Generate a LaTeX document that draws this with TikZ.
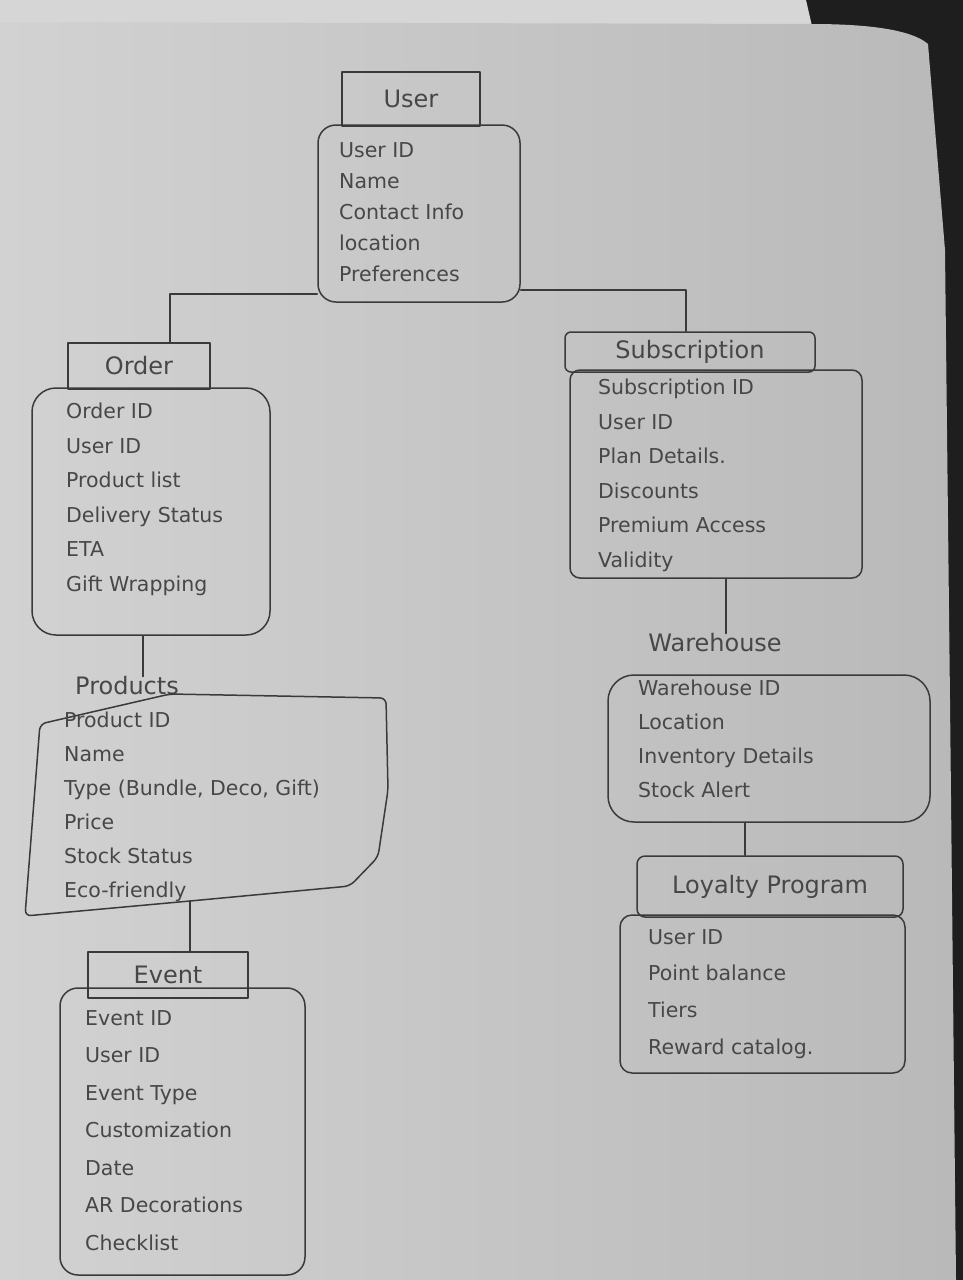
\documentclass[tikz,border=0pt]{standalone}
\usepackage{fontspec}
\setmainfont{DejaVu Sans}
\definecolor{ink}{HTML}{3A3A3A}
\definecolor{inktext}{HTML}{474747}
\definecolor{paperlight}{HTML}{D2D2D2}
\definecolor{paperdark}{HTML}{B9B9B9}
\definecolor{sheettop}{HTML}{D6D6D6}
\definecolor{backdrop}{HTML}{1E1E1E}
\begin{document}
\begin{tikzpicture}[x=1pt,y=-1pt,
  pencil/.style={draw=ink, line width=1.5pt, line cap=round, line join=round},
  tabbox/.style={pencil, rectangle, inner sep=0pt, text=inktext,
    font=\fontsize{24}{28}\selectfont},
  bodybox/.style={pencil, rectangle, rounded corners=#1, inner sep=0pt},
  bodybox/.default=14pt,
  heading/.style={text=inktext, inner sep=0pt, font=\fontsize{24}{28}\selectfont},
  attrlist/.style={text=inktext, inner sep=0pt, anchor=north west, align=left,
    font=\fontsize{20.5}{#1}\selectfont},
  attrlist/.default=34pt,
]
% desk and paper sheets
\useasboundingbox (0,0) rectangle (963,1280);
\fill[backdrop] (0,0) rectangle (963,1280);
\fill[sheettop] (0,0) -- (806,0) -- (812,26) -- (0,26) -- cycle;
\shade[left color=paperlight, right color=paperdark]
  (0,22) -- (812,24) .. controls (870,24) and (912,30) .. (928,44)
  -- (945,250) -- (950,700) -- (956,1280) -- (0,1280) -- cycle;

% User
\node[tabbox, minimum width=138pt, minimum height=54pt] (utab) at (411,99) {User};
\node[bodybox=18pt, minimum width=202pt, minimum height=177pt] (ubody) at (419,213.5) {};
\node[attrlist=31pt] (ulist) at (339,142)
  {User ID\\Name\\Contact Info\\location\\Preferences};

% Order
\node[tabbox, minimum width=142pt, minimum height=46pt] (otab) at (139,366) {Order};
\node[bodybox=24pt, minimum width=238pt, minimum height=247pt] (obody) at (151,511.5) {};
\node[attrlist=34.5pt] (olist) at (66,403)
  {Order ID\\User ID\\Product list\\Delivery Status\\ETA\\Gift Wrapping};

% Subscription
\node[tabbox, rounded corners=6pt, minimum width=250pt, minimum height=40pt] (stab) at (690,352) {Subscription};
\node[bodybox=10pt, minimum width=292pt, minimum height=208pt] (sbody) at (716,474) {};
\node[attrlist=34.5pt] (slist) at (598,379)
  {Subscription ID\\User ID\\Plan Details.\\Discounts\\Premium Access\\Validity};

% Products (irregular outline)
\node[heading] (ptitle) at (127,686) {Products};
\draw[pencil, rounded corners=6pt] (40,724) -- (170,694) -- (386,698) -- (388,790)
  -- (378,857) -- (350,886) -- (190,901) coordinate (pbot) -- (25,916) -- cycle;
\node[attrlist=34pt] (plist) at (64,712)
  {Product ID\\Name\\Type (Bundle, Deco, Gift)\\Price\\Stock Status\\Eco-friendly};

% Event
\node[tabbox, minimum width=160pt, minimum height=46pt] (etab) at (168,975) {Event};
\node[bodybox=18pt, minimum width=245pt, minimum height=287pt] (ebody) at (182.5,1131.5) {};
\node[attrlist=37.5pt] (elist) at (85,1010)
  {Event ID\\User ID\\Event Type\\Customization\\Date\\AR Decorations\\Checklist};

% Warehouse
\node[heading] (wtitle) at (715,643) {Warehouse};
\node[bodybox=26pt, minimum width=322pt, minimum height=147pt] (wbody) at (769,748.5) {};
\node[attrlist=34pt] (wlist) at (638,680)
  {Warehouse ID\\Location\\Inventory Details\\Stock Alert};

% Loyalty Program
\node[tabbox, rounded corners=8pt, minimum width=266pt, minimum height=61pt] (ltab) at (770,886.5) {Loyalty Program};
\node[bodybox=12pt, minimum width=285pt, minimum height=158pt] (lbody) at (762.5,994) {};
\node[attrlist=36.7pt] (llist) at (648,929)
  {User ID\\Point balance\\Tiers\\Reward catalog.};

% connectors
\draw[pencil] ([yshift=9pt]ubody.south west) -| ([xshift=31pt]otab.north);
\draw[pencil] ([yshift=13pt]ubody.south east) -| ([xshift=-4pt]stab.north);
\draw[pencil] ([xshift=-8pt]obody.south) -- ([xshift=-8pt]obody.south |- ptitle.north);
\draw[pencil] (pbot) -- (pbot |- etab.north);
\draw[pencil] ([xshift=10pt]sbody.south) -- ([xshift=10pt]sbody.south |- wtitle.north);
\draw[pencil] ([xshift=-24pt]wbody.south) -- ([xshift=-24pt]wbody.south |- ltab.north);
\end{tikzpicture}
\end{document}
